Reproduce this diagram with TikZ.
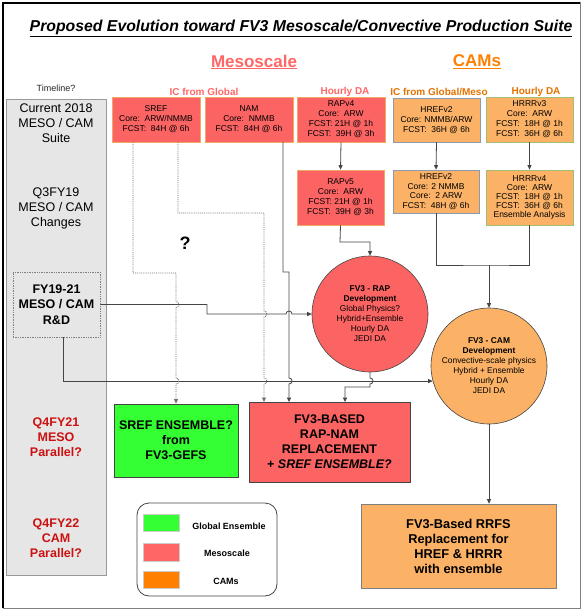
\documentclass[tikz,border=0pt]{standalone}
\usepackage{fontspec}
\setmainfont{Liberation Sans}
\usetikzlibrary{arrows.meta}
\definecolor{meso}{HTML}{FF6666}
\definecolor{mesofill}{HTML}{FC6464}
\definecolor{camfill}{HTML}{FBB266}
\definecolor{camtxt}{HTML}{FF8000}
\definecolor{gfill}{HTML}{33FF33}
\definecolor{colfill}{HTML}{E6E6E6}
\definecolor{redtxt}{HTML}{CC1111}
\definecolor{conn}{HTML}{444444}
\definecolor{mesoborder}{HTML}{F0A868}
\definecolor{hrefborder}{HTML}{8A9AB0}
\definecolor{hrrrborder}{HTML}{A0C070}
\begin{document}
\begin{tikzpicture}[x=1pt,y=-1pt,
  modelbox/.style={draw, line width=0.7pt, align=center, inner sep=1pt,
    font=\fontsize{8.5}{10}\selectfont},
  mesobox/.style={modelbox, fill=mesofill, draw=mesoborder},
  hrefbox/.style={modelbox, fill=camfill, draw=hrefborder},
  hrrrbox/.style={modelbox, fill=camfill, draw=hrrrborder},
  devcircle/.style={circle, draw=conn, line width=0.6pt, minimum size=116pt, inner sep=0pt, align=center,
    font=\fontsize{8.4}{10}\selectfont},
  bigbox/.style={draw=conn, line width=0.7pt, align=center, inner sep=1pt,
    font=\bfseries\fontsize{12.5}{15}\selectfont},
  coltext/.style={align=center, font=\fontsize{12.5}{15}\selectfont},
  headlab/.style={font=\bfseries\fontsize{10}{12}\selectfont},
  legtext/.style={font=\bfseries\fontsize{9}{11}\selectfont},
  conline/.style={draw=conn, line width=0.8pt},
  dotline/.style={draw=black!55, line width=0.9pt, densely dotted},
  tip/.style={-{Triangle[length=4.5pt,width=4pt]}}
]
\useasboundingbox (0,0) rectangle (584,612);
\fill[white] (0,0) rectangle (584,612);
% outer frame
\draw[gray, line width=1pt] (3,3) rectangle (580,608);
\draw[black, line width=1.5pt] (3,608) -- (3,3) -- (580,3);

% title and headings
\node[font=\bfseries\itshape\fontsize{15.8}{18}\selectfont] (title) at (301,28) {\underline{Proposed Evolution toward FV3 Mesoscale/Convective Production Suite}};
\node[font=\bfseries\fontsize{17}{20}\selectfont, text=meso] (mesohead) at (254,62) {\underline{Mesoscale}};
\node[font=\bfseries\fontsize{17}{20}\selectfont, text=camtxt] (camhead) at (477,62) {\underline{CAMs}};
\node[font=\fontsize{9}{11}\selectfont, text=black!85] (timeline) at (56,88) {Timeline?};
\node[headlab, text=meso] (icglobal) at (204,92) {IC from Global};
\node[headlab, text=meso] (hdameso) at (345,92) {Hourly DA};
\node[headlab, text=camtxt!90!black] (icmeso) at (439,92) {IC from Global/Meso};
\node[headlab, text=camtxt!90!black] (hdacam) at (536,92) {Hourly DA};

% timeline column
\draw[fill=colfill, draw=gray!80, line width=0.8pt] (6,99) rectangle (106,575);
\node[coltext] (cur) at (56,123) {Current 2018\\MESO / CAM\\Suite};
\node[coltext] (q3) at (56,208) {Q3FY19\\MESO / CAM\\Changes};
\node[draw=gray, densely dotted, line width=0.7pt, minimum width=87pt, minimum height=65pt, inner sep=0pt,
  coltext, font=\bfseries\fontsize{12.5}{15.5}\selectfont] (rd) at (56.5,304.5) {FY19-21\\MESO / CAM\\R\&D};
\node[coltext, text=redtxt, font=\bfseries\fontsize{12.5}{15}\selectfont] (q4a) at (56,437) {Q4FY21\\MESO\\Parallel?};
\node[coltext, text=redtxt, font=\bfseries\fontsize{12.5}{15}\selectfont] (q4b) at (56,538) {Q4FY22\\CAM\\Parallel?};

% model boxes
\node[mesobox, minimum width=88pt, minimum height=45pt] (sref) at (156,119.5) {SREF\\Core:\ \ ARW/NMMB\\FCST:\ \ 84H @ 6h};
\node[mesobox, minimum width=88pt, minimum height=45pt] (nam) at (249,119.5) {NAM\\Core:\ \ NMMB\\FCST:\ \ 84H @ 6h};
\node[mesobox, minimum width=88pt, minimum height=45pt] (rapv4) at (341,119.5) {RAPv4\\Core:\ \ ARW\\FCST: 21H @ 1h\\FCST:\ \ 39H @ 3h};
\node[hrefbox, minimum width=87pt, minimum height=44pt] (hrefa) at (436.5,120) {HREFv2\\Core: NMMB/ARW\\FCST:\ \ 36H @ 6h};
\node[hrrrbox, minimum width=87pt, minimum height=45pt] (hrrra) at (529.5,119.5) {HRRRv3\\Core:\ \ ARW\\FCST:\ \ 18H @ 1h\\FCST:\ \ 36H @ 6h};
\node[mesobox, minimum width=87pt, minimum height=55pt] (rapv5) at (340.5,197.5) {RAPv5\\Core:\ \ ARW\\FCST: 21H @ 1h\\FCST:\ \ 39H @ 3h};
\node[hrefbox, minimum width=86pt, minimum height=43pt, font=\fontsize{8.5}{9.5}\selectfont] (hrefb) at (436,191.5) {HREFv2\\Core: 2 NMMB\\Core:\ \ 2 ARW\\FCST:\ \ 48H @ 6h};
\node[hrrrbox, minimum width=87pt, minimum height=55pt, font=\fontsize{8.5}{9}\selectfont] (hrrrb) at (529.5,197.5) {HRRRv4\\Core:\ \ ARW\\FCST:\ \ 18H @ 1h\\FCST:\ \ 36H @ 6h\\Ensemble Analysis};

% development circles
\node[devcircle, fill=mesofill] (rapc) at (370,314) {\textbf{FV3 - RAP}\\\textbf{Development}\\Global Physics?\\Hybrid+Ensemble\\Hourly DA\\JEDI DA};
\node[devcircle, fill=camfill] (camc) at (489,366) {\textbf{FV3 - CAM}\\\textbf{Development}\\Convective-scale physics\\Hybrid + Ensemble\\Hourly DA\\JEDI DA};

% result boxes
\node[bigbox, fill=gfill, minimum width=124pt, minimum height=73pt] (green) at (176,440.5) {SREF ENSEMBLE?\\from\\FV3-GEFS};
\node[bigbox, fill=mesofill, minimum width=161pt, minimum height=80pt] (redbox) at (329.5,442) {FV3-BASED\\RAP-NAM\\REPLACEMENT\\+ \textit{SREF ENSEMBLE?}};
\node[bigbox, fill=camfill, draw=gray, minimum width=195pt, minimum height=84pt, font=\bfseries\fontsize{12.8}{15}\selectfont] (rrfs) at (458.5,546) {FV3-Based RRFS\\Replacement for\\HREF \& HRRR\\with ensemble};

\node[font=\bfseries\fontsize{18}{20}\selectfont] (qmark) at (185,243) {?};

% legend
\draw[draw=conn, line width=0.8pt, rounded corners=12pt] (137,503) rectangle (277,596);
\node[fill=gfill, draw=gray!40, minimum width=36pt, minimum height=17pt, inner sep=0pt] (lg) at (161,522.5) {};
\node[fill=meso, draw=gray!40, minimum width=36pt, minimum height=18pt, inner sep=0pt] (lm) at (161,552) {};
\node[fill=camtxt, draw=gray!40, minimum width=36pt, minimum height=17pt, inner sep=0pt] (lc) at (161,579.5) {};
\node[legtext] (lgt) at (229,526) {Global Ensemble};
\node[legtext] (lmt) at (227,553) {Mesoscale};
\node[legtext] (lct) at (226,581) {CAMs};

% connectors: top chain
\draw[conline, tip] (rapv4.south) -- (rapv5.north);
\draw[conline, tip] (hrefa.south) -- (hrefb.north);
\draw[conline, tip] (hrrra.south) -- (hrrrb.north);
\coordinate (camjoin) at (489,265);
\draw[conline] (hrefb.south) |- (camjoin) -| (hrrrb.south);
\draw[conline, tip] (camjoin) -- (camc.north);
\coordinate (rapjog) at (340,242);
\draw[conline, tip] (rapv5.south) -- (rapjog) -| (rapc.north);

% R&D -> RAP circle (hops over NAM line)
\coordinate (rdstep) at (207,304.5);
\draw[conline, tip] (rd.east) -- (rdstep) -- (207,314) -- (286,314)
  arc[start angle=180, end angle=360, radius=3] -- (rapc.west);
% R&D -> CAM circle
\coordinate (rdout) at (63,337);
\draw[conline, tip] (rdout) |- (camc.195);

% dotted SREF lines
\coordinate (srefa) at (133,142);
\coordinate (srefb) at (178,142);
\draw[dotline, tip] (srefa) -- (133,273) -- (176,273) -- (176,301.5)
  arc[start angle=-90, end angle=90, radius=3] -- (176,378)
  arc[start angle=-90, end angle=90, radius=3] -- (green.north);
\coordinate (redin) at (264,402);
\draw[dotline, tip] (srefb) -- (178,213) -- (264,213) -- (264,311)
  arc[start angle=-90, end angle=90, radius=3] -- (264,378)
  arc[start angle=-90, end angle=90, radius=3] -- (redin);

% NAM -> red box
\coordinate (namout) at (283,142);
\coordinate (namin) at (289,402);
\draw[conline, tip] (namout) -- (283,272) -- (289,272) -- (289,378)
  arc[start angle=-90, end angle=90, radius=3] -- (namin);

% RAP circle -> red box
\coordinate (rapin) at (345,402);
\draw[conline, tip] (rapc.south) -- (370,378)
  arc[start angle=-90, end angle=90, radius=3] -- (370,387) -- (345,387) -- (rapin);

% CAM circle -> RRFS
\draw[conline, tip] (camc.south) -- (camc.south |- rrfs.north);
\end{tikzpicture}
\end{document}
